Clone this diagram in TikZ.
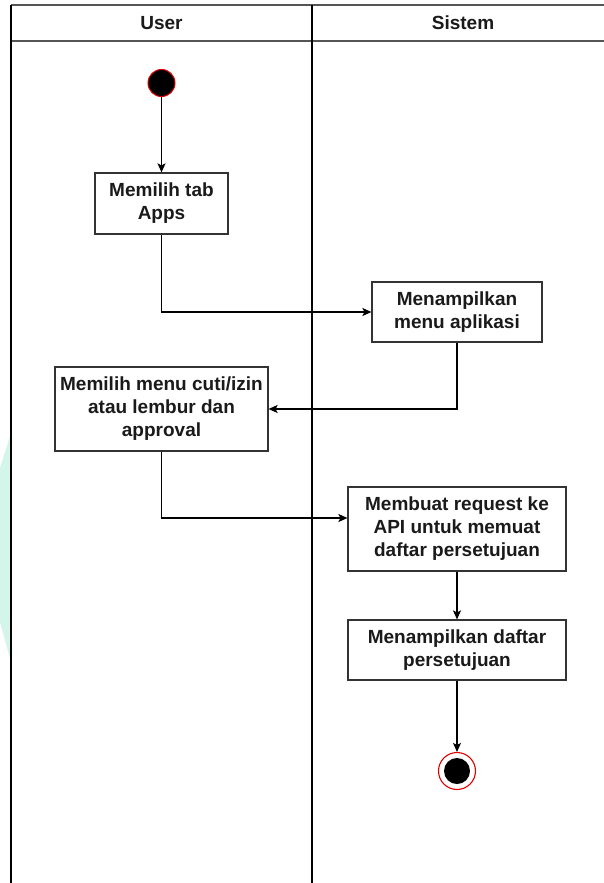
\documentclass[tikz,border=0pt]{standalone}
\usepackage{fontspec}
\setmainfont{Liberation Sans}
\usetikzlibrary{arrows.meta}
\definecolor{lanegray}{HTML}{555555}
\definecolor{boxgray}{HTML}{333333}
\definecolor{txt}{HTML}{1A1A1A}
\definecolor{mint}{HTML}{D4F6EA}
\definecolor{startred}{HTML}{E00000}
\tikzset{
  lbl/.style={font=\fontsize{19}{23}\selectfont\bfseries, text=txt},
  actbox/.style={draw=boxgray, line width=1.2pt, fill=white, rectangle,
    inner sep=0pt, align=center, lbl},
  flow/.style={draw=black, line width=1.2pt, -{Stealth[length=9pt,width=8pt,inset=2pt]}},
  link/.style={draw=black, line width=1.2pt},
}
\begin{document}
\begin{tikzpicture}[x=1pt, y=-1pt]
\useasboundingbox (0,0) rectangle (603,883);
\fill[white] (0,0) rectangle (603,883);

% faint watermark at the left edge
\fill[mint] (11,433) -- (11,662) -- (0,622) -- (0,468) -- cycle;

% swimlanes
\draw[lanegray, line width=1.3pt] (11,5) -- (614,5);
\draw[lanegray, line width=1.3pt] (11,41) -- (614,41);
\draw[black, line width=1.3pt] (11,5) -- (11,890);
\draw[black, line width=1.3pt] (312,5) -- (312,890);
\node[lbl] (hUser) at (161.5,23) {User};
\node[lbl] (hSistem) at (463,23) {Sistem};

% start and end
\node[circle, fill=black, draw=startred, line width=1pt, minimum size=27pt, inner sep=0pt] (start) at (161.5,83) {};
\node[circle, draw=startred, line width=1.1pt, fill=white, minimum size=37pt, inner sep=0pt] (finish) at (457,771) {};
\node[circle, fill=black, minimum size=26pt, inner sep=0pt] (finishdot) at (457,771) {};

% activities
\node[actbox, minimum width=133pt, minimum height=61pt] (b1) at (161.5,203.5) {Memilih tab\\Apps};
\node[actbox, minimum width=170pt, minimum height=60pt] (b2) at (457,312) {Menampilkan\\menu aplikasi};
\node[actbox, minimum width=213pt, minimum height=84pt] (b3) at (161.5,409) {Memilih menu cuti/izin\\atau lembur dan\\approval};
\node[actbox, minimum width=218pt, minimum height=84pt] (b4) at (457,529) {Membuat request ke\\API untuk memuat\\daftar persetujuan};
\node[actbox, minimum width=218pt, minimum height=60pt] (b5) at (457,650) {Menampilkan daftar\\persetujuan};

% control flow
\draw[flow] (start) -- (b1);
\draw[flow] (b1.south) |- (b2.west);
\draw[flow] (b2.south) |- (b3.east);
\draw[flow] (b3.south) |- ([yshift=11pt]b4.west);
\draw[flow] (b4) -- (b5);
\draw[flow] (b5) -- (finish);
\end{tikzpicture}
\end{document}
